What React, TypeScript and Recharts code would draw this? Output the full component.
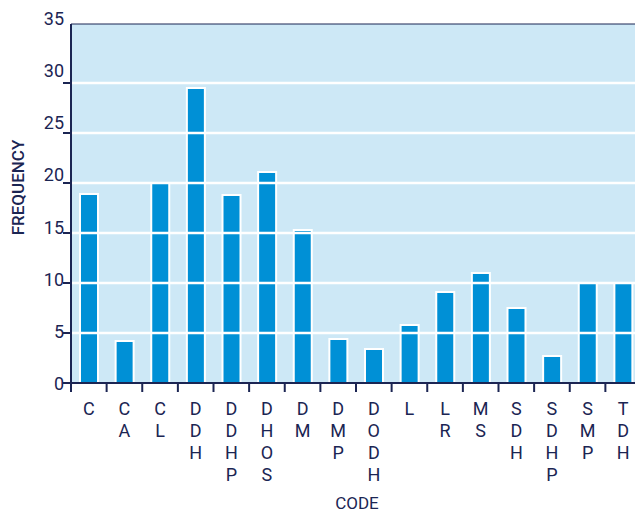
import React from 'react';
import { BarChart, Bar, XAxis, YAxis, ReferenceLine } from 'recharts';

const codes = ['C', 'CA', 'CL', 'DDH', 'DDHP', 'DHOS', 'DM', 'DMP', 'DODH', 'L', 'LR', 'MS', 'SDH', 'SDHP', 'SMP', 'TDH'];
const frequency = [18.9, 4.2, 20, 29.5, 18.8, 21.1, 15.3, 4.4, 3.4, 5.8, 9.1, 11, 7.5, 2.7, 10, 10];
const yTicks = [0, 5, 10, 15, 20, 25, 30, 35];
const gridValues = [5, 10, 15, 20, 25, 30];

const NAVY = '#1b2553';
const FONT = 'Roboto, "Noto Sans", sans-serif';

const data = codes.map((code, i) => ({ code, frequency: frequency[i] }));

const XTick = (props: any) => {
  const { x, y, payload } = props;
  const letters = String(payload.value).split('');
  const half = payload.offset || 0;
  return (
    <g>
      <line x1={x - half} y1={y} x2={x - half} y2={y + 9} stroke={NAVY} strokeWidth={2} />
      {letters.map((ch, i) => (
        <text
          key={i}
          x={x}
          y={y + 32 + i * 22}
          textAnchor="middle"
          fill={NAVY}
          fontSize={18}
          fontFamily={FONT}
        >
          {ch}
        </text>
      ))}
    </g>
  );
};

const YTick = (props: any) => {
  const { x, y, payload } = props;
  const v = payload.value;
  const shift = 1 - 0.43 * v;
  return (
    <g>
      {v !== 35 && <line x1={x - 8} y1={y} x2={x} y2={y} stroke={NAVY} strokeWidth={2} />}
      <text
        x={x - 7}
        y={y + shift + 6}
        textAnchor="end"
        fill={NAVY}
        fontSize={18}
        fontFamily={FONT}
      >
        {v}
      </text>
    </g>
  );
};

const FreqLabel = (props: any) => {
  const vb = props.viewBox || {};
  const cx = (vb.x || 0) + 18;
  const cy = (vb.y || 0) + (vb.height || 0) / 2 - 16;
  return (
    <text
      x={cx}
      y={cy}
      transform={`rotate(-90, ${cx}, ${cy})`}
      textAnchor="middle"
      dominantBaseline="central"
      fill={NAVY}
      fontSize={17}
      fontWeight={500}
      fontFamily={FONT}
    >
      FREQUENCY
    </text>
  );
};

const CodeLabel = (props: any) => {
  const vb = props.viewBox || {};
  const cx = (vb.x || 0) + (vb.width || 0) / 2 + 1;
  const by = (vb.y || 0) + (vb.height || 0) - 3;
  return (
    <text x={cx} y={by} textAnchor="middle" fill={NAVY} fontSize={17} fontFamily={FONT}>
      CODE
    </text>
  );
};

export default function App() {
  return (
    <div style={{ position: 'absolute', left: 0, top: 0, width: 635, height: 512, overflow: 'hidden', background: '#fff' }}>
      <BarChart
        width={641}
        height={512}
        data={data}
        margin={{ top: 24, right: 0, left: 0, bottom: 0 }}
        barCategoryGap={0}
      >
        <rect x={71} y={24} width={570} height={359} fill="#cde8f6" />
        <XAxis
          dataKey="code"
          interval={0}
          height={129}
          tickSize={0}
          tickMargin={0}
          tickLine={false}
          tick={<XTick />}
          axisLine={{ stroke: NAVY, strokeWidth: 2 }}
          label={<CodeLabel />}
        />
        <YAxis
          width={71}
          domain={[0, 35.9]}
          ticks={yTicks}
          interval={0}
          tickSize={0}
          tickMargin={0}
          tickLine={false}
          tick={<YTick />}
          axisLine={{ stroke: NAVY, strokeWidth: 2 }}
          label={<FreqLabel />}
        />
        <Bar
          dataKey="frequency"
          fill="#0090d6"
          stroke="#ffffff"
          strokeWidth={2}
          barSize={18}
          isAnimationActive={false}
        />
        {gridValues.map((v) => (
          <ReferenceLine key={v} y={v} stroke="#ffffff" strokeWidth={2.5} />
        ))}
        <ReferenceLine y={35.9} stroke={NAVY} strokeWidth={1} />
      </BarChart>
    </div>
  );
}
